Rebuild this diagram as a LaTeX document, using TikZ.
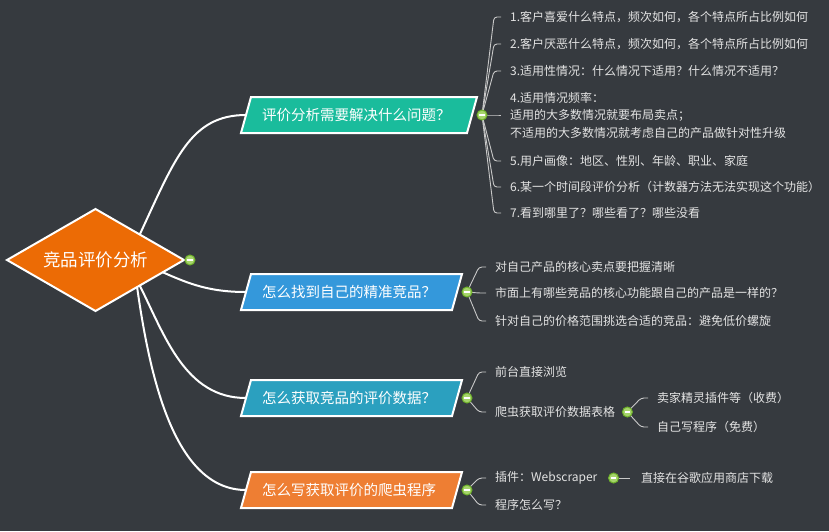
\documentclass[tikz,border=0pt]{standalone}
\usepackage{fontspec}
\setmainfont{Noto Sans CJK SC}
\usetikzlibrary{shapes.geometric,calc}
\pgfdeclarelayer{back}
\pgfdeclarelayer{mid}
\pgfsetlayers{back,mid,main}
\definecolor{bgc}{HTML}{363A3F}
\definecolor{rootc}{HTML}{EC6B05}
\definecolor{bonec}{HTML}{1ABC9C}
\definecolor{btwoc}{HTML}{3498DB}
\definecolor{bthreec}{HTML}{2BA0BF}
\definecolor{bfourc}{HTML}{EE7E33}
\definecolor{leafc}{HTML}{E3E3E3}
\definecolor{linec}{HTML}{C8C8C8}
\definecolor{knobfill}{HTML}{A6D46B}
\definecolor{knobring}{HTML}{6FB22B}
\newcommand\pgram[2]{%
  \begin{pgfonlayer}{mid}
  \draw[bshape,fill=#2] ([xshift=5pt]#1.north west) -- ([xshift=5pt]#1.north east)
    -- ([xshift=-5pt]#1.south east) -- ([xshift=-5pt]#1.south west) -- cycle;
  \end{pgfonlayer}}
\newcommand\leafconn[2]{\draw[leafline] (#1.center) -- ([xshift=-16pt]#2.west) -- ([xshift=-9pt]#2.west);}
\begin{document}
\begin{tikzpicture}[x=1pt,y=-1pt,
  rootnode/.style={diamond, aspect=1.735, draw=white, line width=2pt, fill=rootc,
    minimum width=177pt, minimum height=102pt, inner sep=0pt, outer sep=0pt,
    text=white, font=\fontsize{17.5}{20}\selectfont},
  branch/.style={rectangle, inner ysep=0pt, inner xsep=16pt, outer sep=0pt,
    minimum height=36pt, align=left, text=white, font=\fontsize{14.5}{16}\selectfont},
  bshape/.style={draw=white, line width=2pt, line join=miter},
  knob/.style={circle, minimum size=10pt, inner sep=0pt, fill=knobfill, draw=knobring,
    line width=1pt,
    path picture={\draw[white, line width=1.5pt]
      ([xshift=-2.8pt]path picture bounding box.center) --
      ([xshift=2.8pt]path picture bounding box.center);}},
  leaf/.style={anchor=west, inner sep=0pt, text=leafc, align=left,
    font=\fontsize{12}{17.5}\selectfont},
  rootline/.style={draw=white, line width=2pt},
  leafline/.style={draw=linec, line width=0.9pt, rounded corners=3pt}]

\useasboundingbox (0,0) rectangle (829,531);
\begin{pgfonlayer}{back}
\fill[bgc] (0,0) rectangle (829,531);
\end{pgfonlayer}

% root
\node[rootnode] (root) at (95.5,260) {竞品评价分析};
\node[knob] (kroot) at ([xshift=6pt]root.east) {};

% branches
\node[branch, text width=194pt] (b1) at (359,115) {评价分析需要解决什么问题？};
\node[branch, text width=179pt] (b2) at (351.5,292) {怎么找到自己的精准竞品？};
\node[branch, text width=179pt] (b3) at (351.5,398) {怎么获取竞品的评价数据？};
\node[branch, text width=179pt] (b4) at (351.5,490) {怎么写获取评价的爬虫程序};
\pgram{b1}{bonec}
\pgram{b2}{btwoc}
\pgram{b3}{bthreec}
\pgram{b4}{bfourc}
\node[knob] (k1) at ([xshift=10pt]b1.east) {};
\node[knob] (k2) at ([xshift=10pt]b2.east) {};
\node[knob] (k3) at ([xshift=10pt]b3.east) {};
\node[knob] (k4) at ([xshift=10pt]b4.east) {};

% branch 1 leaves
\node[leaf] (l11) at (510,17) {1.客户喜爱什么特点，频次如何，各个特点所占比例如何};
\node[leaf] (l12) at (510,44) {2.客户厌恶什么特点，频次如何，各个特点所占比例如何};
\node[leaf] (l13) at (510,71) {3.适用性情况：什么情况下适用？什么情况不适用？};
\node[leaf] (l14) at (510,115) {4.适用情况频率：\\适用的大多数情况就要布局卖点；\\不适用的大多数情况就考虑自己的产品做针对性升级};
\node[leaf] (l15) at (510,161) {5.用户画像：地区、性别、年龄、职业、家庭};
\node[leaf] (l16) at (510,187) {6.某一个时间段评价分析（计数器方法无法实现这个功能）};
\node[leaf] (l17) at (510,213) {7.看到哪里了？哪些看了？哪些没看};

% branch 2 leaves
\node[leaf] (l21) at (495,267) {对自己产品的核心卖点要把握清晰};
\node[leaf] (l22) at (495,293) {市面上有哪些竞品的核心功能跟自己的产品是一样的？};
\node[leaf] (l23) at (495,321) {针对自己的价格范围挑选合适的竞品：避免低价螺旋};

% branch 3 leaves
\node[leaf] (l31) at (495,372) {前台直接浏览};
\node[leaf] (l32) at (495,412) {爬虫获取评价数据表格};
\node[knob] (k32) at ([xshift=12pt]l32.east) {};
\node[leaf] (l321) at (657,398) {卖家精灵插件等（收费）};
\node[leaf] (l322) at (657,427) {自己写程序（免费）};

% branch 4 leaves
\node[leaf] (l41) at (495,478) {插件：Webscraper};
\node[knob] (k41) at ([xshift=16pt]l41.east) {};
\node[leaf] (l411) at (641,478) {直接在谷歌应用商店下载};
\node[leaf] (l42) at (495,505) {程序怎么写？};

\begin{pgfonlayer}{mid}
% root connectors
\draw[rootline] (root.north east) .. controls +(35,-75) and +(-56,0) .. (b1.west);
\draw[rootline] ($(root.east)!0.24!(root.south)$) .. controls +(27,12) and +(-36,0) .. (b2.west);
\draw[rootline] (root.south east) .. controls +(25,50) and +(-61,0) .. (b3.west);
\draw[rootline] ($(root.east)!0.53!(root.south)$) .. controls +(13,92) and +(-71,0) .. (b4.west);
% leaf connectors
\leafconn{k1}{l11}
\leafconn{k1}{l12}
\leafconn{k1}{l13}
\leafconn{k1}{l14}
\leafconn{k1}{l15}
\leafconn{k1}{l16}
\leafconn{k1}{l17}
\leafconn{k2}{l21}
\leafconn{k2}{l22}
\leafconn{k2}{l23}
\leafconn{k3}{l31}
\leafconn{k3}{l32}
\leafconn{k32}{l321}
\leafconn{k32}{l322}
\leafconn{k4}{l41}
\leafconn{k4}{l42}
\draw[leafline] (k41.center) -- ([xshift=-11pt]l411.west);
\end{pgfonlayer}
\end{tikzpicture}
\end{document}
